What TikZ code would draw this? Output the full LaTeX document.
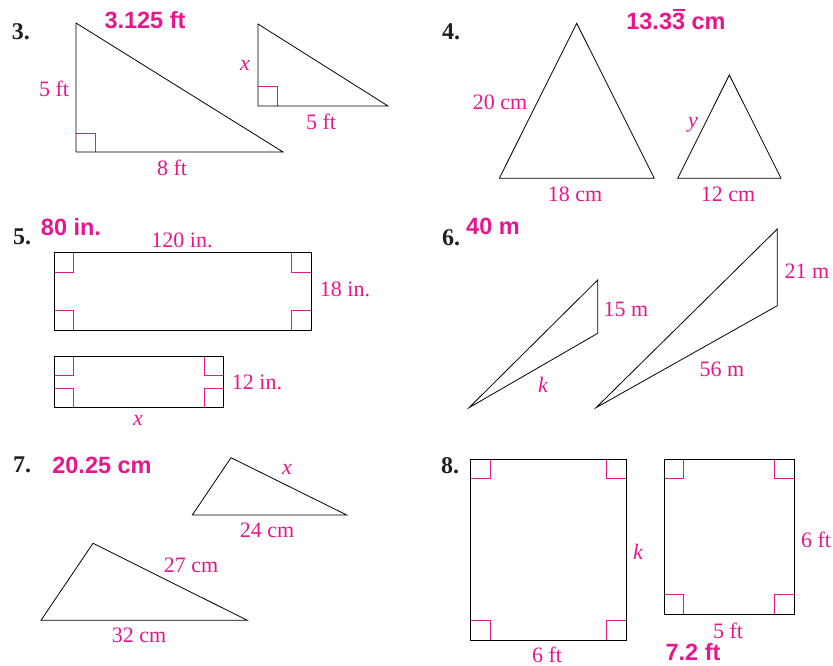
\documentclass[tikz,border=0pt]{standalone}
\usepackage{fontspec}
\setmainfont{Liberation Serif}
\newfontfamily\ansfont{Liberation Sans}
\definecolor{mag}{HTML}{E8168C}
\definecolor{numcol}{HTML}{231F20}
\begin{document}
\begin{tikzpicture}[x=1pt,y=-1pt,
  fig/.style={draw=black, line width=0.8pt, line join=miter},
  ra/.style={draw=mag, line width=0.8pt},
  lab/.style={text=mag, inner sep=0pt, font=\fontsize{22}{26}\selectfont},
  ilab/.style={text=mag, inner sep=0pt, font=\fontsize{22}{26}\selectfont\itshape},
  ans/.style={text=mag, inner sep=0pt, font=\fontsize{23.5}{28}\selectfont\ansfont\bfseries},
  num/.style={text=numcol, inner sep=0pt, font=\fontsize{24}{28}\selectfont\bfseries}]
\useasboundingbox (0,0) rectangle (833,666);
\fill[white] (0,0) rectangle (833,666);
% ---------- 3 ----------
\node[num] (n3) at (21,32) {3.};
\node[ans] (a3) at (145,20) {3.125 ft};
\draw[ra] (76,133) -- (95.5,133) -- (95.5,152);
\draw[fig] (76,23) -- (76,152) -- (283,152) -- cycle;
\node[lab] (l3a) at (54,89) {5 ft};
\node[lab] (l3b) at (172,168) {8 ft};
\draw[ra] (258,86.5) -- (277,86.5) -- (277,106);
\draw[fig] (258,24) -- (258,106) -- (388,106) -- cycle;
\node[ilab] (l3c) at (245,65) {x};
\node[lab] (l3d) at (321,122) {5 ft};
% ---------- 4 ----------
\node[num] (n4) at (451,32) {4.};
\node[ans] (a4) at (676,21) {13.3\smash{\rlap{\hspace{0.04em}\rule[0.78em]{0.5em}{0.075em}}}3 cm};
\draw[fig] (576.7,23.3) -- (499.3,178.3) -- (654.3,178.3) -- cycle;
\draw[fig] (729.3,75) -- (677.7,178.3) -- (781,178.3) -- cycle;
\node[lab] (l4a) at (500,102) {20 cm};
\node[ilab] (l4b) at (693,125) {y};
\node[lab] (l4c) at (575,194) {18 cm};
\node[lab] (l4d) at (728,194) {12 cm};
% ---------- 5 ----------
\node[num] (n5) at (22,237) {5.};
\node[ans] (a5) at (71,227) {80 in.};
\node[lab] (l5a) at (182,240) {120 in.};
\draw[ra] (54.3,272) -- (73.6,272) -- (73.6,252.7);
\draw[ra] (54.3,310.7) -- (73.6,310.7) -- (73.6,330);
\draw[ra] (311,272) -- (291.7,272) -- (291.7,252.7);
\draw[ra] (311,310.7) -- (291.7,310.7) -- (291.7,330);
\draw[fig] (54.3,252.7) rectangle (311,330);
\node[lab] (l5b) at (345,289) {18 in.};
\draw[ra] (54.3,375.7) -- (73.6,375.7) -- (73.6,356);
\draw[ra] (54.3,388.4) -- (73.6,388.4) -- (73.6,407.7);
\draw[ra] (223.3,375.7) -- (204,375.7) -- (204,356);
\draw[ra] (223.3,388.4) -- (204,388.4) -- (204,407.7);
\draw[fig] (54.3,356) rectangle (223.3,407.7);
\node[lab] (l5c) at (257,382) {12 in.};
\node[ilab] (l5d) at (138,420) {x};
% ---------- 6 ----------
\node[num] (n6) at (451,238) {6.};
\node[ans] (a6) at (493,226) {40 m};
\draw[fig] (469,407.7) -- (597.7,280) -- (597.7,333.3) -- cycle;
\draw[fig] (596,407.7) -- (777.3,229) -- (777.3,305.7) -- cycle;
\node[lab] (l6a) at (626,309) {15 m};
\node[lab] (l6b) at (807,271) {21 m};
\node[ilab] (l6c) at (543,385) {k};
\node[lab] (l6d) at (722,369) {56 m};
% ---------- 7 ----------
\node[num] (n7) at (22,465) {7.};
\node[ans] (a7) at (102,465) {20.25 cm};
\draw[fig] (231,457.7) -- (192.3,515) -- (346.7,515) -- cycle;
\node[ilab] (l7a) at (287,469) {x};
\node[lab] (l7b) at (267,530) {24 cm};
\draw[fig] (93,543.3) -- (41,620.3) -- (247.3,620.3) -- cycle;
\node[lab] (l7c) at (191,565) {27 cm};
\node[lab] (l7d) at (139,635) {32 cm};
% ---------- 8 ----------
\node[num] (n8) at (450,466) {8.};
\draw[ra] (470.7,478.6) -- (490,478.6) -- (490,459.3);
\draw[ra] (470.7,620.7) -- (490,620.7) -- (490,640);
\draw[ra] (626,478.6) -- (606.7,478.6) -- (606.7,459.3);
\draw[ra] (626,620.7) -- (606.7,620.7) -- (606.7,640);
\draw[fig] (470.7,459.3) rectangle (626,640);
\node[ilab] (l8a) at (638,552) {k};
\node[lab] (l8b) at (547,655) {6 ft};
\draw[ra] (664.3,478.6) -- (683.6,478.6) -- (683.6,459.3);
\draw[ra] (664.3,594.7) -- (683.6,594.7) -- (683.6,614);
\draw[ra] (794,478.6) -- (774.7,478.6) -- (774.7,459.3);
\draw[ra] (794,594.7) -- (774.7,594.7) -- (774.7,614);
\draw[fig] (664.3,459.3) rectangle (794,614);
\node[lab] (l8c) at (816,540) {6 ft};
\node[lab] (l8d) at (728,631) {5 ft};
\node[ans] (a8) at (693,652) {7.2 ft};
\end{tikzpicture}
\end{document}
